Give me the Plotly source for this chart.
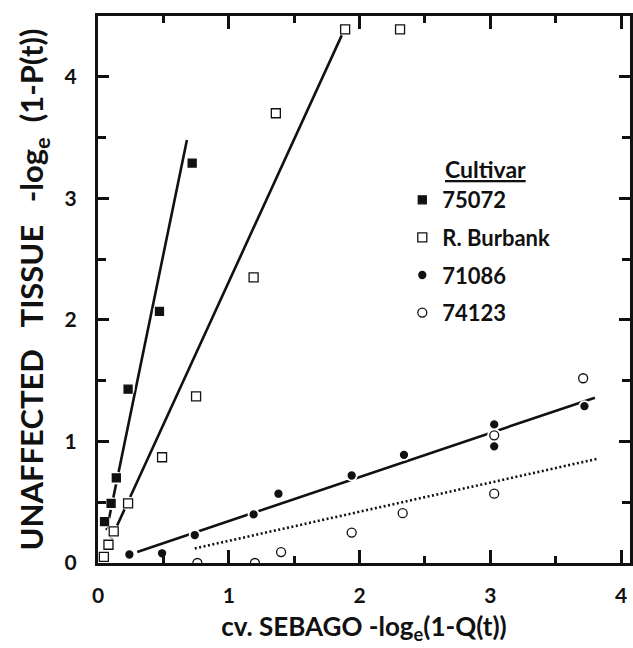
import plotly.graph_objects as go

# --- data ---
x_75072 = [0.05, 0.10, 0.14, 0.23, 0.47, 0.72]
y_75072 = [0.34, 0.49, 0.70, 1.43, 2.07, 3.29]

x_burbank = [0.045, 0.08, 0.12, 0.23, 0.49, 0.75, 1.19, 1.36, 1.89, 2.31]
y_burbank = [0.05, 0.15, 0.26, 0.49, 0.87, 1.37, 2.35, 3.70, 4.39, 4.39]

x_71086 = [0.24, 0.49, 0.74, 1.19, 1.38, 1.94, 2.34, 3.03, 3.03, 3.72]
y_71086 = [0.07, 0.08, 0.23, 0.40, 0.57, 0.72, 0.89, 1.14, 0.96, 1.29]

x_74123 = [0.76, 1.20, 1.40, 1.94, 2.33, 3.03, 3.03, 3.71]
y_74123 = [0.00, 0.00, 0.09, 0.25, 0.41, 0.57, 1.05, 1.52]

# fitted lines (end points)
fit_75072_x = [0.066, 0.68]
fit_75072_y = [0.27, 3.48]
fit_burbank_x = [0.10, 1.885]
fit_burbank_y = [0.20, 4.39]
fit_71086_x = [0.30, 3.80]
fit_71086_y = [0.09, 1.36]
fit_74123_x = [0.74, 3.83]
fit_74123_y = [0.12, 0.86]

x_ticks = [0, 1, 2, 3, 4]
y_ticks = [0, 1, 2, 3, 4]

FONT = "Lato"
INK = "#111111"

fig = go.Figure()

# fit lines
for fx, fy, dash in [(fit_75072_x, fit_75072_y, "solid"),
                     (fit_burbank_x, fit_burbank_y, "solid"),
                     (fit_71086_x, fit_71086_y, "solid"),
                     (fit_74123_x, fit_74123_y, "2px,2.5px")]:
    fig.add_trace(go.Scatter(x=fx, y=fy, mode="lines",
                             line=dict(color=INK, width=2.6, dash=dash),
                             showlegend=False, hoverinfo="skip"))

series = [
    ("75072", x_75072, y_75072, "square", 8),
    ("R. Burbank", x_burbank, y_burbank, "square-open", 9),
    ("71086", x_71086, y_71086, "circle", 7),
    ("74123", x_74123, y_74123, "circle-open", 9),
]

# white halos to break lines around the points
for name, xs, ys, sym, sz in series:
    fig.add_trace(go.Scatter(x=xs, y=ys, mode="markers",
                             marker=dict(symbol="circle", size=sz + 5, color="white"),
                             showlegend=False, hoverinfo="skip"))

for name, xs, ys, sym, sz in series:
    fig.add_trace(go.Scatter(x=xs, y=ys, mode="markers", name=name,
                             legendgroup=name,
                             marker=dict(symbol=sym, size=sz, color=INK,
                                         line=dict(color=INK, width=1.3))))

axis_common = dict(
    showgrid=False, zeroline=False, showline=True, linecolor=INK, linewidth=3,
    mirror="ticks", ticks="inside", tickcolor=INK, tickwidth=2.5,
    tickfont=dict(family=FONT, size=21, color=INK, weight="bold"),
)

fig.update_xaxes(range=[0, 535 / 131.5], tickvals=x_ticks, ticklen=13,
                 ticklabelstandoff=12,
                 minor=dict(dtick=0.5, tick0=0, ticks="inside", ticklen=7,
                            tickwidth=2.5, tickcolor=INK),
                 title=dict(text="cv. SEBAGO -log<sub>e</sub>(1-Q(t))",
                            font=dict(family=FONT, size=26, color=INK, weight="bold"),
                            standoff=12),
                 **axis_common)
fig.update_yaxes(range=[0, 4.5], tickvals=y_ticks, ticklen=11,
                 ticklabelstandoff=14,
                 minor=dict(dtick=0.5, tick0=0, ticks="inside", ticklen=8,
                            tickwidth=2.5, tickcolor=INK),
                 title=dict(text="UNAFFECTED   TISSUE   -log<sub>e</sub>  (1-P(t))",
                            font=dict(family=FONT, size=31, color=INK, weight="bold"),
                            standoff=12),
                 **axis_common)

fig.add_annotation(text="<u>Cultivar</u>", xref="paper", yref="paper",
                   x=(445 - 98) / 535, y=(563 - 169) / 547,
                   xanchor="left", yanchor="middle", showarrow=False,
                   font=dict(family=FONT, size=23, color=INK, weight="bold"))

fig.update_layout(
    width=633, height=648,
    margin=dict(l=98, r=0, t=16, b=85),
    plot_bgcolor="white", paper_bgcolor="white",
    legend=dict(x=(404 - 98) / 535, y=(563 - 179) / 547, xanchor="left", yanchor="top",
                font=dict(family=FONT, size=22, color=INK, weight="bold"),
                bgcolor="rgba(0,0,0,0)", tracegroupgap=6, itemsizing="trace"),
    showlegend=True,
)

fig.write_html("out.html")
